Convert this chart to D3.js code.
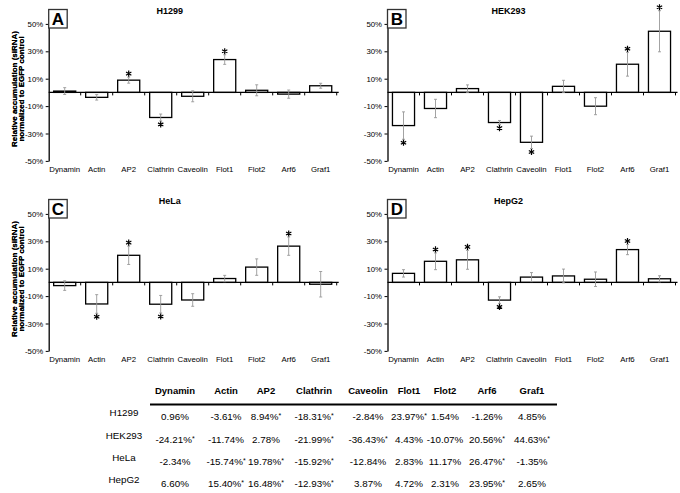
<!DOCTYPE html>
<html lang="en">
<head>
    <meta charset="UTF-8">
    <script src="https://d3js.org/d3.v7.min.js"></script>
    <style>
        body {margin: 0; background-color: #ffffff}
        svg {display: block; font-family: "Liberation Sans", Arial, sans-serif;}
    </style>
</head>
<body>
<svg class="chart" width="680" height="493"></svg>
<script type="text/javascript">
    // genes knocked down by siRNA
    let genes = ['Dynamin', 'Actin', 'AP2', 'Clathrin', 'Caveolin', 'Flot1', 'Flot2', 'Arf6', 'Graf1'];
    let cellLines = ['H1299', 'HEK293', 'HeLa', 'HepG2'];
    let panelLetters = ['A', 'B', 'C', 'D'];
    let yTicks = [50, 30, 10, -10, -30, -50];

    // relative accumulation, percent
    let h1299Values = [0.96, -3.61, 8.94, -18.31, -2.84, 23.97, 1.54, -1.26, 4.85];
    let hek293Values = [-24.21, -11.74, 2.78, -21.99, -36.43, 4.43, -10.07, 20.56, 44.63];
    let helaValues = [-2.34, -15.74, 19.78, -15.92, -12.84, 2.83, 11.17, 26.47, -1.35];
    let hepg2Values = [6.60, 15.40, 16.48, -12.93, 3.87, 4.72, 2.31, 23.95, 2.65];

    // error bar half widths
    let h1299Errors = [2.5, 2, 2.2, 2.5, 4, 3.5, 4, 3, 1.8];
    let hek293Errors = [10, 6.7, 2.7, 1.5, 4.5, 4.4, 6.2, 8.7, 15];
    let helaErrors = [3.5, 6.8, 6.7, 6.4, 4.6, 2.3, 6, 6.7, 9.3];
    let hepg2Errors = [2.7, 6.1, 6.9, 2.4, 3.3, 5, 5.3, 3.7, 2.2];

    // significant (*)
    let h1299Signif = [0, 0, 1, 1, 0, 1, 0, 0, 0];
    let hek293Signif = [1, 0, 0, 1, 1, 0, 0, 1, 1];
    let helaSignif = [0, 1, 1, 1, 0, 0, 0, 1, 0];
    let hepg2Signif = [0, 1, 1, 1, 0, 0, 0, 1, 0];

    let allValues = [h1299Values, hek293Values, helaValues, hepg2Values];
    let allErrors = [h1299Errors, hek293Errors, helaErrors, hepg2Errors];
    let allSignif = [h1299Signif, hek293Signif, helaSignif, hepg2Signif];

    let svg = d3.select('.chart');
    let panel_x = [48.7, 387.5, 48.7, 387.5];
    let panel_top = [0, 0, 190, 190];
    let plot_width = 288;
    let half_height = 68.5;
    let font = '"Liberation Sans", Arial, sans-serif';

    cellLines.forEach((line, p) => {
        let axisX = panel_x[p];
        let top = panel_top[p];
        let zeroY = top + 92.4;

        let x = d3.scaleBand()
            .domain(genes)
            .range([axisX, axisX + plot_width])
            .paddingInner(0.31)
            .paddingOuter(0.155);

        let y = d3.scaleLinear()
            .domain([-50, 50])
            .range([zeroY + half_height, zeroY - half_height]);

        let data = genes.map((g, i) => ({
            gene: g, value: allValues[p][i], err: allErrors[p][i], sig: allSignif[p][i]
        }));

        let g = svg.append('g');

        // y axis
        let yAxis = g.append('g')
            .attr('transform', `translate(${axisX},0)`)
            .call(d3.axisLeft(y).tickValues(yTicks).tickFormat(d => d + '%').tickSize(3).tickSizeOuter(0).tickPadding(2.5));
        yAxis.select('.domain').attr('stroke', '#000').attr('stroke-width', 1.3);
        yAxis.selectAll('.tick line').attr('stroke', '#000');
        yAxis.selectAll('.tick text').attr('font-size', 7.8).attr('fill', '#000')
            .attr('font-family', font);

        // y title
        let titleG = g.append('g')
            .attr('transform', `translate(0,${top + 89}) rotate(-90)`);
        titleG.append('text')
            .attr('x', 0).attr('y', 16.5)
            .attr('text-anchor', 'middle')
            .attr('font-size', 8).attr('font-weight', 'bold')
            .text('Relative accumulation (siRNA)');
        titleG.append('text')
            .attr('x', 0).attr('y', 24)
            .attr('text-anchor', 'middle')
            .attr('font-size', 8).attr('font-weight', 'bold')
            .text('normalized to EGFP control');

        // bars
        g.selectAll('rect.bar').data(data).enter().append('rect')
            .attr('class', 'bar')
            .attr('x', d => x(d.gene))
            .attr('width', x.bandwidth())
            .attr('y', d => y(Math.max(0, d.value)))
            .attr('height', d => Math.abs(y(d.value) - y(0)))
            .attr('fill', '#fff')
            .attr('stroke', '#000')
            .attr('stroke-width', 1.3);

        // zero line with ticks between bars
        g.append('line')
            .attr('x1', axisX).attr('x2', axisX + plot_width + 2)
            .attr('y1', y(0)).attr('y2', y(0))
            .attr('stroke', '#000').attr('stroke-width', 1.3);
        g.selectAll('line.sep').data(genes).enter().append('line')
            .attr('class', 'sep')
            .attr('x1', d => x(d) + x.bandwidth() + (x.step() - x.bandwidth()) / 2)
            .attr('x2', d => x(d) + x.bandwidth() + (x.step() - x.bandwidth()) / 2)
            .attr('y1', y(0)).attr('y2', y(0) + 3)
            .attr('stroke', '#000').attr('stroke-width', 1);

        // error bars
        let eb = g.selectAll('g.err').data(data).enter().append('g').attr('class', 'err')
            .attr('stroke', '#999').attr('stroke-width', 0.9);
        eb.append('line')
            .attr('x1', d => x(d.gene) + x.bandwidth() / 2)
            .attr('x2', d => x(d.gene) + x.bandwidth() / 2)
            .attr('y1', d => y(d.value + d.err))
            .attr('y2', d => y(d.value - d.err));
        [1, -1].forEach(s => {
            eb.append('line')
                .attr('x1', d => x(d.gene) + x.bandwidth() / 2 - 1.5)
                .attr('x2', d => x(d.gene) + x.bandwidth() / 2 + 1.5)
                .attr('y1', d => y(d.value + s * d.err))
                .attr('y2', d => y(d.value + s * d.err));
        });

        // asterisks
        g.selectAll('path.star').data(data.filter(d => d.sig)).enter().append('path')
            .attr('class', 'star')
            .attr('d', d3.symbol(d3.symbolAsterisk, 26))
            .attr('transform', d => {
                let end = d.value >= 0 ? y(d.value + d.err) - 3.5 : y(d.value - d.err) + 3.5;
                return `translate(${x(d.gene) + x.bandwidth() / 2},${end})`;
            })
            .attr('stroke', '#000').attr('stroke-width', 1.2).attr('fill', 'none');

        // category labels
        let xAxis = g.append('g')
            .attr('transform', `translate(0,${y(-50)})`)
            .call(d3.axisBottom(x).tickSize(0).tickPadding(5.5));
        xAxis.select('.domain').remove();
        xAxis.selectAll('.tick text').attr('font-size', 7.8).attr('fill', '#000')
            .attr('font-family', font);

        // title
        g.append('text')
            .attr('x', axisX + 121).attr('y', top + 14)
            .attr('text-anchor', 'middle')
            .attr('font-size', 9).attr('font-weight', 'bold')
            .text(line);

        // panel letter
        g.append('rect')
            .attr('x', axisX).attr('y', top + 9.5)
            .attr('width', 18.5).attr('height', 18.5)
            .attr('fill', '#fff').attr('stroke', '#333').attr('stroke-width', 1.3);
        g.append('text')
            .attr('x', axisX + 9.3).attr('y', top + 25)
            .attr('text-anchor', 'middle')
            .attr('font-size', 17).attr('font-weight', 'bold')
            .text(panelLetters[p]);
    });

    // table underneath
    let colX = d3.scaleOrdinal()
        .domain(genes)
        .range([175, 226, 266, 314, 368, 409, 445, 487, 532]);

    let table = svg.append('g');
    table.selectAll('text.head').data(genes).enter().append('text')
        .attr('class', 'head')
        .attr('x', d => colX(d)).attr('y', 393.5)
        .attr('text-anchor', 'middle')
        .attr('font-size', 9.5).attr('font-weight', 'bold')
        .text(d => d);

    table.append('line')
        .attr('x1', 150).attr('x2', 557)
        .attr('y1', 404.5).attr('y2', 404.5)
        .attr('stroke', '#000').attr('stroke-width', 2);

    let rowY = d3.scalePoint().domain(cellLines).range([416.8, 483.5]);

    cellLines.forEach((line, r) => {
        table.append('text')
            .attr('x', 124).attr('y', rowY(line) - 0.5)
            .attr('text-anchor', 'middle')
            .attr('font-size', 9.8)
            .text(line);

        genes.forEach((gene, i) => {
            let t = table.append('text')
                .attr('x', colX(gene)).attr('y', rowY(line) + 3.5)
                .attr('text-anchor', 'middle')
                .attr('font-size', 9.8);
            t.append('tspan').text(allValues[r][i].toFixed(2) + '%');
            if (allSignif[r][i]) {
                t.append('tspan').attr('font-size', 7).attr('dy', -2).text('*');
            }
        });
    });
</script>
</body>
</html>
